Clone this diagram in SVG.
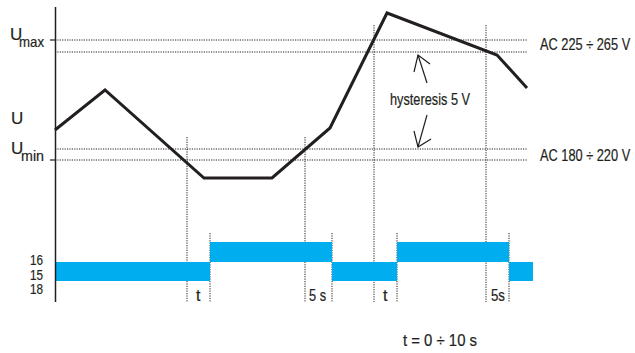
<svg xmlns="http://www.w3.org/2000/svg" width="635" height="353" viewBox="0 0 635 353">
<style>
text{font-family:"Liberation Sans",Arial,sans-serif;fill:#231f20;stroke:#231f20;stroke-width:0.2}
.lbl{font-size:16px}
.num{font-size:15px}
.dot{stroke:#231f20;stroke-width:1;stroke-dasharray:1.2 1.2;fill:none}
.bar{fill:#00adef}
.arr{stroke:#231f20;stroke-width:1.2;fill:none}
</style>
<rect width="635" height="353" fill="#fff"/>
<g id="levels">
<line class="dot" x1="55" y1="40" x2="527" y2="40"/>
<line class="dot" x1="55" y1="52" x2="527" y2="52"/>
<line class="dot" x1="55" y1="149" x2="527" y2="149"/>
<line class="dot" x1="55" y1="160" x2="527" y2="160"/>
</g>
<g id="markers">
<line class="dot" x1="187" y1="137" x2="187" y2="302"/>
<line class="dot" x1="305" y1="137" x2="305" y2="302"/>
<line class="dot" x1="374" y1="25" x2="374" y2="302"/>
<line class="dot" x1="486" y1="25" x2="486" y2="302"/>
<line class="dot" x1="210" y1="233" x2="210" y2="302"/>
<line class="dot" x1="332" y1="233" x2="332" y2="302"/>
<line class="dot" x1="397" y1="233" x2="397" y2="302"/>
<line class="dot" x1="509" y1="233" x2="509" y2="302"/>
</g>
<g id="bars">
<rect class="bar" x="56" y="262" width="154" height="19"/>
<rect class="bar" x="210" y="242" width="122" height="20"/>
<rect class="bar" x="332" y="262" width="65" height="19"/>
<rect class="bar" x="397" y="242" width="112" height="20"/>
<rect class="bar" x="509" y="262" width="24" height="19"/>
</g>
<g id="axis">
<line x1="55.5" y1="7" x2="55.5" y2="302" stroke="#231f20" stroke-width="1.5"/>
<line x1="50" y1="40" x2="55" y2="40" stroke="#231f20" stroke-width="1.2"/>
<line x1="50" y1="160" x2="55" y2="160" stroke="#231f20" stroke-width="1.2"/>
</g>
<g id="curve">
<polyline points="55,130 105,90 204,178 272,178 330,128 387,13 497,55 527,88" fill="none" stroke="#231f20" stroke-width="3" stroke-linejoin="miter"/>
</g>
<g id="hysteresis">
<line class="arr" x1="427" y1="83" x2="418" y2="55"/>
<polyline class="arr" points="414,72 418,55 430,64"/>
<line class="arr" x1="427" y1="115" x2="418" y2="147"/>
<polyline class="arr" points="414,131 418,147 431,139"/>
<text class="lbl" x="390" y="105" textLength="80" lengthAdjust="spacingAndGlyphs">hysteresis 5 V</text>
</g>
<g id="labels">
<text x="10" y="40" font-size="17">U<tspan x="19" y="47" font-size="15" textLength="25" lengthAdjust="spacingAndGlyphs">max</tspan></text>
<text x="11" y="124" font-size="17">U</text>
<text x="11" y="154" font-size="17">U<tspan x="21" y="161" font-size="15" textLength="23" lengthAdjust="spacingAndGlyphs">min</tspan></text>
<text class="lbl" transform="translate(540,50) scale(0.8,1)" x="0" y="0">AC 225 ÷ 265 V</text>
<text class="lbl" transform="translate(540,161) scale(0.8,1)" x="0" y="0">AC 180 ÷ 220 V</text>
<text class="num" x="43" y="265" text-anchor="end" textLength="13" lengthAdjust="spacingAndGlyphs">16</text>
<text class="num" x="43" y="280" text-anchor="end" textLength="13" lengthAdjust="spacingAndGlyphs">15</text>
<text class="num" x="43" y="294" text-anchor="end" textLength="13" lengthAdjust="spacingAndGlyphs">18</text>
<text class="lbl" x="196" y="301">t</text>
<text class="lbl" x="309" y="301" textLength="17" lengthAdjust="spacingAndGlyphs">5 s</text>
<text class="lbl" x="383" y="301">t</text>
<text class="lbl" x="491" y="301" textLength="14" lengthAdjust="spacingAndGlyphs">5s</text>
<text class="lbl" x="403" y="346" textLength="74" lengthAdjust="spacingAndGlyphs">t = 0 ÷ 10 s</text>
</g>
</svg>
